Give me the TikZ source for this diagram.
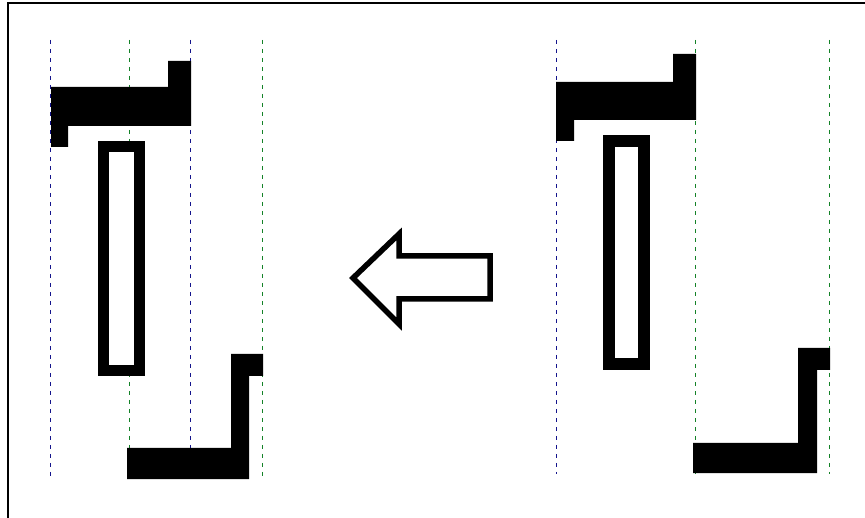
\documentclass[tikz,border=0pt]{standalone}
\definecolor{guideblue}{RGB}{20,20,140}
\definecolor{guidegreen}{RGB}{20,130,40}
\tikzset{
  guideb/.style={guideblue, line width=1pt, dash pattern=on 4pt off 5pt},
  guideg/.style={guidegreen, line width=1pt, dash pattern=on 4pt off 5pt},
  solidpart/.style={fill=black, draw=none},
  hollowpart/.style={draw=black, line width=11pt, fill=white},
  bigarrow/.style={draw=black, line width=5.5pt, line join=miter, fill=white}
}
\begin{document}
\begin{tikzpicture}[x=1pt,y=-1pt]
\useasboundingbox (0,0) rectangle (865,518);
\fill[white] (0,0) rectangle (865,518);
% frame
\draw[line width=2pt] (8,518) -- (8,3) -- (865,3);
% left panel guides
\draw[guideb] (50.5,40) -- (50.5,480);
\draw[guideg] (129,40) -- (129,480);
\draw[guideb] (190.5,40) -- (190.5,480);
\draw[guideg] (262.5,40) -- (262.5,480);
% left panel parts
\fill[solidpart] (51,87) -- (168,87) -- (168,61) -- (191,61) -- (191,126) -- (68,126) -- (68,147) -- (51,147) -- cycle;
\draw[hollowpart] (103.5,146.5) rectangle (139.5,370.5);
\fill[solidpart] (127,448) -- (231,448) -- (231,354) -- (263,354) -- (263,376) -- (249,376) -- (249,479) -- (127,479) -- cycle;
% right panel guides
\draw[guideb] (556.5,40) -- (556.5,474);
\draw[guidegreen, line width=1pt, dash pattern=on 4pt off 5pt] (695.5,40) -- (695.5,474);
\draw[guideg] (829,40) -- (829,474);
% right panel parts
\fill[solidpart] (556,82) -- (673,82) -- (673,54) -- (696,54) -- (696,120) -- (574,120) -- (574,141) -- (556,141) -- cycle;
\draw[hollowpart, line width=12pt] (609,141) rectangle (644,364);
\fill[solidpart] (693,443) -- (798,443) -- (798,348) -- (830,348) -- (830,370) -- (817,370) -- (817,473) -- (693,473) -- cycle;
% arrow
\draw[bigarrow] (353,278) -- (399,234) -- (399,256) -- (490,256) -- (490,299) -- (399,299) -- (399,324) -- cycle;
\end{tikzpicture}
\end{document}
